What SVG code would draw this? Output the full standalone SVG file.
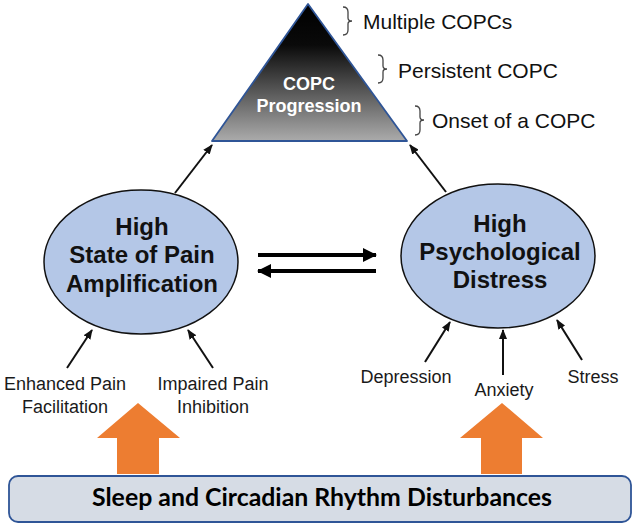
<svg xmlns="http://www.w3.org/2000/svg" width="638" height="526" viewBox="0 0 638 526">
<style>
.lbl{font-family:"Liberation Sans",Arial,sans-serif;font-size:18px;fill:#1a1a1a;text-anchor:middle}
.big{font-family:"Liberation Sans",Arial,sans-serif;font-size:24px;font-weight:bold;fill:#111;text-anchor:middle}
.lvl{font-family:"Liberation Sans",Arial,sans-serif;font-size:21px;fill:#111}
.tri{font-family:"Liberation Sans",Arial,sans-serif;font-size:18px;font-weight:bold;fill:#fff;text-anchor:middle}
.ell{fill:#B4C7E7;stroke:#111;stroke-width:1.5}
.thin{stroke:#111;stroke-width:2;fill:none;marker-end:url(#ah)}
.thick{stroke:#000;stroke-width:4;fill:none;marker-end:url(#ahb)}
.brace{stroke:#444;stroke-width:1.3;fill:none}
.orange{fill:#ED7D31}
</style>
<defs>
<linearGradient id="g" x1="0" y1="0" x2="0" y2="1">
<stop offset="0" stop-color="#000"/>
<stop offset="0.3" stop-color="#0a0a0a"/>
<stop offset="1" stop-color="#ababab"/>
</linearGradient>
<marker id="ah" markerUnits="userSpaceOnUse" markerWidth="10" markerHeight="8" refX="9" refY="4" orient="auto">
<path d="M0,0 L10,4 L0,8 z" fill="#111"/>
</marker>
<marker id="ahb" markerUnits="userSpaceOnUse" markerWidth="14" markerHeight="14" refX="13" refY="7" orient="auto">
<path d="M0,0 L14,7 L0,14 z" fill="#000"/>
</marker>
</defs>
<rect width="638" height="526" fill="#fff"/>

<g id="copc-progression">
<polygon points="308,4 407,141 212,141" fill="url(#g)" stroke="#2F5597" stroke-width="1.8" stroke-linejoin="round"/>
<text class="tri" x="309" y="90">COPC</text>
<text class="tri" x="309" y="112">Progression</text>
</g>

<g id="levels">
<path class="brace" d="M343,7 Q348,7 348,12 L348,18 Q348,21 352,21 Q348,21 348,24 L348,30 Q348,35 343,35"/>
<text class="lvl" x="363" y="29">Multiple COPCs</text>
<path class="brace" d="M378,55 Q383,55 383,60 L383,66 Q383,69 387,69 Q383,69 383,72 L383,78 Q383,83 378,83"/>
<text class="lvl" x="398" y="78">Persistent COPC</text>
<path class="brace" d="M415,106 Q420,106 420,111 L420,117 Q420,120 424,120 Q420,120 420,123 L420,130 Q420,135 415,135"/>
<text class="lvl" x="432" y="128">Onset of a COPC</text>
</g>

<g id="pain-amplification">
<ellipse class="ell" cx="141" cy="262" rx="97" ry="72"/>
<text class="big" x="142" y="235">High</text>
<text class="big" x="142" y="263">State of Pain</text>
<text class="big" x="142" y="292">Amplification</text>
</g>

<g id="psychological-distress">
<ellipse class="ell" cx="498" cy="256" rx="97" ry="72"/>
<text class="big" x="500" y="232">High</text>
<text class="big" x="500" y="260">Psychological</text>
<text class="big" x="500" y="288">Distress</text>
</g>

<g id="enhanced-pain-facilitation">
<text class="lbl" x="65" y="390">Enhanced Pain</text>
<text class="lbl" x="65" y="413">Facilitation</text>
</g>
<g id="impaired-pain-inhibition">
<text class="lbl" x="213" y="390">Impaired Pain</text>
<text class="lbl" x="213" y="413">Inhibition</text>
</g>
<g id="depression"><text class="lbl" x="406" y="383">Depression</text></g>
<g id="anxiety"><text class="lbl" x="504" y="396">Anxiety</text></g>
<g id="stress"><text class="lbl" x="593" y="383">Stress</text></g>

<g id="sleep-circadian">
<rect x="9" y="476" width="622" height="46" rx="9" fill="#D6DCE5" stroke="#2F5597" stroke-width="1.8"/>
<text x="322" y="506" text-anchor="middle" font-family="Lato,'Open Sans',sans-serif" font-weight="bold" font-size="25" textLength="460" lengthAdjust="spacingAndGlyphs" fill="#000">Sleep and Circadian Rhythm Disturbances</text>
</g>

<g id="connectors">
<path class="thin" d="M175,193 L212,145"/>
<path class="thin" d="M446,192 L410,145"/>
<path class="thick" d="M258,255 L376,255"/>
<path class="thick" d="M376,271 L258,271"/>
<path class="thin" d="M67,368 L92,330"/>
<path class="thin" d="M213,368 L188,330"/>
<path class="thin" d="M425,362 L450,322"/>
<path class="thin" d="M503,375 L503,330"/>
<path class="thin" d="M582,360 L557,320"/>
<polygon class="orange" points="138,403 180,438 159,438 159,474 117,474 117,438 97,438"/>
<polygon class="orange" points="502,403 543,438 522,438 522,474 481,474 481,438 460,438"/>
</g>
</svg>
